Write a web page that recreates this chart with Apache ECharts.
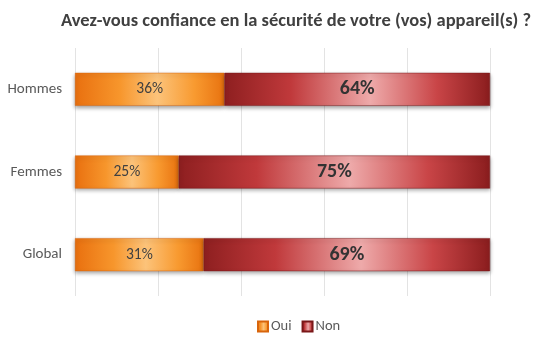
<!DOCTYPE html>
<html>
<head>
<meta charset="utf-8">
<script src="https://cdn.jsdelivr.net/npm/echarts@6/dist/echarts.min.js"></script>
<style>
  html, body { margin: 0; padding: 0; background: #ffffff; }
  #chart { width: 535px; height: 344px; }
</style>
</head>
<body>
<div id="chart"></div>
<script>
// Survey: trust in device security, by gender
const categories = ['Hommes', 'Femmes', 'Global'];
const ouiValues = [36, 25, 31];
const nonValues = [64, 75, 69];
const seriesNames = ['Oui', 'Non'];

const font = 'Calibri, Lato, "Open Sans", sans-serif';

function hGrad(stops) {
  return new echarts.graphic.LinearGradient(0, 0, 1, 0,
    stops.map(s => ({ offset: s[0], color: s[1] })));
}

const ouiFill = hGrad([[0, '#e9700f'], [0.3, '#f7962c'], [0.55, '#fcc37a'], [0.8, '#f89a30'], [1, '#e8720f']]);
const nonFill = hGrad([[0, '#8e1f20'], [0.25, '#c0393b'], [0.55, '#eeaaaa'], [0.8, '#c94547'], [1, '#8b1d1e']]);

const chart = echarts.init(document.getElementById('chart'), null, { renderer: 'canvas' });
chart.setOption({
  animation: false,
  title: {
    text: 'Avez-vous confiance en la sécurité de votre (vos) appareil(s) ?',
    left: 291, top: 7, textAlign: 'center',
    textStyle: { fontFamily: font, fontSize: 18.5, fontWeight: 'bold', color: '#404040' }
  },
  legend: {
    data: seriesNames,
    bottom: 5, left: 252,
    itemWidth: 10, itemHeight: 10, itemGap: 10,
    icon: 'rect',
    textStyle: { fontFamily: font, fontSize: 14.5, color: '#595959', padding: [0, 0, 0, -2] }
  },
  grid: { left: 75, right: 45, top: 48, bottom: 48 },
  xAxis: {
    type: 'value', min: 0, max: 100, interval: 20,
    axisLabel: { show: false },
    axisLine: { show: false }, axisTick: { show: false },
    splitLine: { lineStyle: { color: '#e3e3e3', width: 1 } }
  },
  yAxis: {
    type: 'category', data: categories, inverse: true,
    axisLine: { show: false }, axisTick: { show: false },
    axisLabel: { fontFamily: font, fontSize: 15, color: '#595959', margin: 13 }
  },
  series: [
    {
      name: 'Oui', type: 'bar', stack: 'total', data: ouiValues, barWidth: 33,
      itemStyle: { color: ouiFill, borderColor: '#d8650c', borderWidth: 0.5,
        shadowBlur: 4, shadowOffsetY: 2, shadowColor: 'rgba(0,0,0,0.35)' },
      label: { show: true, position: 'inside', formatter: '{c}%',
        fontFamily: font, fontSize: 15.5, color: '#404040' }
    },
    {
      name: 'Non', type: 'bar', stack: 'total', data: nonValues, barWidth: 33,
      itemStyle: { color: nonFill, borderColor: '#7a1718', borderWidth: 0.5,
        shadowBlur: 4, shadowOffsetY: 2, shadowColor: 'rgba(0,0,0,0.35)' },
      label: { show: true, position: 'inside', formatter: '{c}%',
        fontFamily: font, fontSize: 20, fontWeight: 'bold', color: '#333333' }
    }
  ]
});
</script>
</body>
</html>
